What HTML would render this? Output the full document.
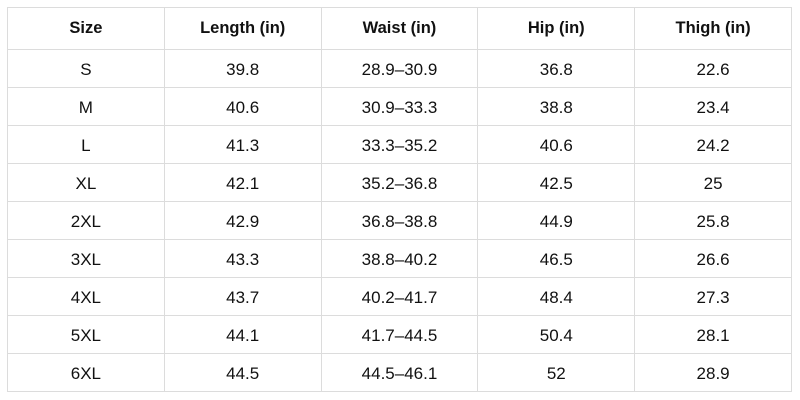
<!DOCTYPE html><html><head><style>
body{margin:0;width:800px;height:400px;background:#fff;font-family:"Liberation Sans",sans-serif;}
table{position:absolute;left:7px;top:7px;border-collapse:collapse;width:785px;}
td,th{border:1.5px solid #dcdcdc;text-align:center;font-size:17px;color:#111;padding:0;width:157px;}
th{height:42px;font-weight:bold;font-size:16.5px;box-sizing:border-box;}
td{height:38px;padding-top:3px;box-sizing:border-box;}
</style></head><body>
<table>
<tr><th>Size</th><th>Length (in)</th><th>Waist (in)</th><th>Hip (in)</th><th>Thigh (in)</th></tr>
<tr><td>S</td><td>39.8</td><td>28.9–30.9</td><td>36.8</td><td>22.6</td></tr>
<tr><td>M</td><td>40.6</td><td>30.9–33.3</td><td>38.8</td><td>23.4</td></tr>
<tr><td>L</td><td>41.3</td><td>33.3–35.2</td><td>40.6</td><td>24.2</td></tr>
<tr><td>XL</td><td>42.1</td><td>35.2–36.8</td><td>42.5</td><td>25</td></tr>
<tr><td>2XL</td><td>42.9</td><td>36.8–38.8</td><td>44.9</td><td>25.8</td></tr>
<tr><td>3XL</td><td>43.3</td><td>38.8–40.2</td><td>46.5</td><td>26.6</td></tr>
<tr><td>4XL</td><td>43.7</td><td>40.2–41.7</td><td>48.4</td><td>27.3</td></tr>
<tr><td>5XL</td><td>44.1</td><td>41.7–44.5</td><td>50.4</td><td>28.1</td></tr>
<tr><td>6XL</td><td>44.5</td><td>44.5–46.1</td><td>52</td><td>28.9</td></tr>
</table>
</body></html>
